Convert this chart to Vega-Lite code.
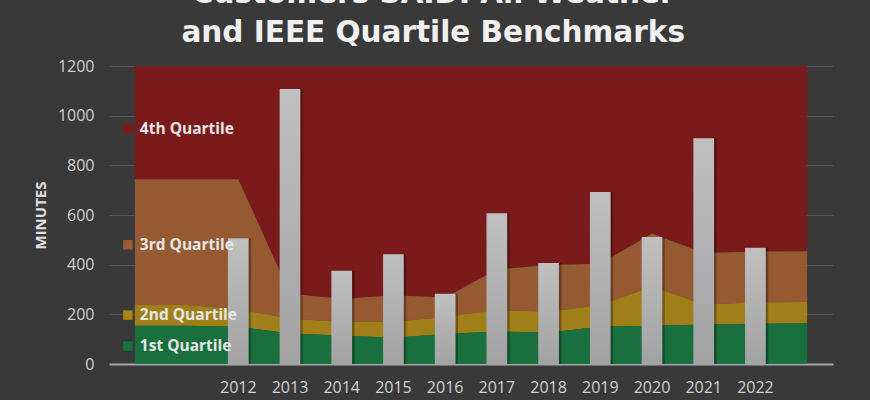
{
  "$schema": "https://vega.github.io/schema/vega-lite/v6.json",
  "width": 724,
  "height": 298,
  "autosize": {"type": "none"},
  "padding": {"left": 109, "top": 66, "right": 37, "bottom": 36},
  "background": "#393939",
  "config": {"view": {"stroke": null}, "font": "Open Sans"},
  "title": {
    "text": ["Customers SAIDI All Weather", "and IEEE Quartile Benchmarks"],
    "font": "DejaVu Sans",
    "fontSize": 29.5,
    "fontWeight": "bold",
    "color": "#f0f0f0",
    "lineHeight": 39,
    "anchor": "middle",
    "frame": "bounds",
    "baseline": "alphabetic",
    "offset": -13
  },
  "datasets": {
    "areas": [
      {"year": 2010, "quartile": "4th Quartile", "lo": 744, "hi": 1200},
      {"year": 2011, "quartile": "4th Quartile", "lo": 744, "hi": 1200},
      {"year": 2012, "quartile": "4th Quartile", "lo": 744, "hi": 1200},
      {"year": 2013, "quartile": "4th Quartile", "lo": 284, "hi": 1200},
      {"year": 2014, "quartile": "4th Quartile", "lo": 262, "hi": 1200},
      {"year": 2015, "quartile": "4th Quartile", "lo": 277, "hi": 1200},
      {"year": 2016, "quartile": "4th Quartile", "lo": 268, "hi": 1200},
      {"year": 2017, "quartile": "4th Quartile", "lo": 381, "hi": 1200},
      {"year": 2018, "quartile": "4th Quartile", "lo": 399, "hi": 1200},
      {"year": 2019, "quartile": "4th Quartile", "lo": 404, "hi": 1200},
      {"year": 2020, "quartile": "4th Quartile", "lo": 526, "hi": 1200},
      {"year": 2021, "quartile": "4th Quartile", "lo": 447, "hi": 1200},
      {"year": 2022, "quartile": "4th Quartile", "lo": 453, "hi": 1200},
      {"year": 2023, "quartile": "4th Quartile", "lo": 454, "hi": 1200},
      {"year": 2010, "quartile": "3rd Quartile", "lo": 238, "hi": 744},
      {"year": 2011, "quartile": "3rd Quartile", "lo": 238, "hi": 744},
      {"year": 2012, "quartile": "3rd Quartile", "lo": 221, "hi": 744},
      {"year": 2013, "quartile": "3rd Quartile", "lo": 182, "hi": 284},
      {"year": 2014, "quartile": "3rd Quartile", "lo": 170, "hi": 262},
      {"year": 2015, "quartile": "3rd Quartile", "lo": 170, "hi": 277},
      {"year": 2016, "quartile": "3rd Quartile", "lo": 189, "hi": 268},
      {"year": 2017, "quartile": "3rd Quartile", "lo": 217, "hi": 381},
      {"year": 2018, "quartile": "3rd Quartile", "lo": 210, "hi": 399},
      {"year": 2019, "quartile": "3rd Quartile", "lo": 238, "hi": 404},
      {"year": 2020, "quartile": "3rd Quartile", "lo": 312, "hi": 526},
      {"year": 2021, "quartile": "3rd Quartile", "lo": 240, "hi": 447},
      {"year": 2022, "quartile": "3rd Quartile", "lo": 248, "hi": 453},
      {"year": 2023, "quartile": "3rd Quartile", "lo": 250, "hi": 454},
      {"year": 2010, "quartile": "2nd Quartile", "lo": 154, "hi": 238},
      {"year": 2011, "quartile": "2nd Quartile", "lo": 154, "hi": 238},
      {"year": 2012, "quartile": "2nd Quartile", "lo": 150, "hi": 221},
      {"year": 2013, "quartile": "2nd Quartile", "lo": 123, "hi": 182},
      {"year": 2014, "quartile": "2nd Quartile", "lo": 115, "hi": 170},
      {"year": 2015, "quartile": "2nd Quartile", "lo": 106, "hi": 170},
      {"year": 2016, "quartile": "2nd Quartile", "lo": 121, "hi": 189},
      {"year": 2017, "quartile": "2nd Quartile", "lo": 131, "hi": 217},
      {"year": 2018, "quartile": "2nd Quartile", "lo": 127, "hi": 210},
      {"year": 2019, "quartile": "2nd Quartile", "lo": 150, "hi": 238},
      {"year": 2020, "quartile": "2nd Quartile", "lo": 154, "hi": 312},
      {"year": 2021, "quartile": "2nd Quartile", "lo": 159, "hi": 240},
      {"year": 2022, "quartile": "2nd Quartile", "lo": 162, "hi": 248},
      {"year": 2023, "quartile": "2nd Quartile", "lo": 164, "hi": 250},
      {"year": 2010, "quartile": "1st Quartile", "lo": 0, "hi": 154},
      {"year": 2011, "quartile": "1st Quartile", "lo": 0, "hi": 154},
      {"year": 2012, "quartile": "1st Quartile", "lo": 0, "hi": 150},
      {"year": 2013, "quartile": "1st Quartile", "lo": 0, "hi": 123},
      {"year": 2014, "quartile": "1st Quartile", "lo": 0, "hi": 115},
      {"year": 2015, "quartile": "1st Quartile", "lo": 0, "hi": 106},
      {"year": 2016, "quartile": "1st Quartile", "lo": 0, "hi": 121},
      {"year": 2017, "quartile": "1st Quartile", "lo": 0, "hi": 131},
      {"year": 2018, "quartile": "1st Quartile", "lo": 0, "hi": 127},
      {"year": 2019, "quartile": "1st Quartile", "lo": 0, "hi": 150},
      {"year": 2020, "quartile": "1st Quartile", "lo": 0, "hi": 154},
      {"year": 2021, "quartile": "1st Quartile", "lo": 0, "hi": 159},
      {"year": 2022, "quartile": "1st Quartile", "lo": 0, "hi": 162},
      {"year": 2023, "quartile": "1st Quartile", "lo": 0, "hi": 164}
    ],
    "bars": [
      {"year": 2012, "minutes": 506},
      {"year": 2013, "minutes": 1107},
      {"year": 2014, "minutes": 376},
      {"year": 2015, "minutes": 442},
      {"year": 2016, "minutes": 283},
      {"year": 2017, "minutes": 607},
      {"year": 2018, "minutes": 407},
      {"year": 2019, "minutes": 693},
      {"year": 2020, "minutes": 511},
      {"year": 2021, "minutes": 909},
      {"year": 2022, "minutes": 468}
    ],
    "legend": [
      {"year": 2010, "quartile": "4th Quartile", "y": 947},
      {"year": 2010, "quartile": "3rd Quartile", "y": 480},
      {"year": 2010, "quartile": "2nd Quartile", "y": 197},
      {"year": 2010, "quartile": "1st Quartile", "y": 72}
    ]
  },
  "encoding": {
    "x": {
      "field": "year",
      "type": "ordinal",
      "scale": {
        "type": "band",
        "domain": [2010, 2011, 2012, 2013, 2014, 2015, 2016, 2017, 2018, 2019, 2020, 2021, 2022, 2023],
        "paddingInner": 0,
        "paddingOuter": 0
      },
      "axis": {
        "title": null,
        "labelExpr": "datum.value >= 2012 && datum.value <= 2022 ? datum.label : ''",
        "labelOverlap": false,
        "ticks": false,
        "tickSize": 0,
        "grid": false,
        "domainColor": "#a8a8a8",
        "domainWidth": 2,
        "labelColor": "#d0d0d0",
        "labelFontSize": 16,
        "labelPadding": 15,
        "labelAngle": 0
      }
    }
  },
  "layer": [
    {
      "data": {"name": "areas"},
      "mark": {"type": "area", "opacity": 0.93, "interpolate": "linear"},
      "encoding": {
        "x": {"field": "year", "type": "ordinal", "bandPosition": 0.5},
        "y": {
          "field": "hi",
          "type": "quantitative",
          "scale": {"domain": [0, 1200], "nice": false},
          "axis": {
            "title": "MINUTES",
            "values": [0, 200, 400, 600, 800, 1000, 1200],
            "format": "d",
            "domain": false,
            "ticks": false,
            "tickSize": 0,
            "labelPadding": 15,
            "labelFontSize": 16,
            "labelColor": "#d0d0d0",
            "gridColor": "#575757",
            "gridWidth": 1,
            "titleFontSize": 15,
            "titleFontWeight": "bold",
            "titleColor": "#e0e0e0",
            "titlePadding": 9
          }
        },
        "y2": {"field": "lo"},
        "color": {
          "field": "quartile",
          "type": "nominal",
          "scale": {
            "domain": ["4th Quartile", "3rd Quartile", "2nd Quartile", "1st Quartile"],
            "range": ["#801818", "#9c5c31", "#a88317", "#17733d"]
          },
          "legend": null
        }
      }
    },
    {
      "data": {"name": "bars"},
      "mark": {"type": "bar", "width": {"band": 0.4}, "color": "#000000", "opacity": 0.3, "xOffset": 2.5},
      "encoding": {
        "y": {"field": "minutes", "type": "quantitative"}
      }
    },
    {
      "data": {"name": "bars"},
      "mark": {
        "type": "bar",
        "width": {"band": 0.4},
        "color": {
          "gradient": "linear",
          "x1": 0, "y1": 0, "x2": 0, "y2": 1,
          "stops": [
            {"offset": 0, "color": "#c0c0c0"},
            {"offset": 1, "color": "#a2a2a2"}
          ]
        }
      },
      "encoding": {
        "y": {"field": "minutes", "type": "quantitative"}
      }
    },
    {
      "data": {"name": "legend"},
      "mark": {"type": "point", "shape": "square", "filled": true, "size": 90, "opacity": 1, "xOffset": -7},
      "encoding": {
        "x": {"field": "year", "type": "ordinal", "bandPosition": 0.5},
        "y": {"field": "y", "type": "quantitative"},
        "color": {"field": "quartile", "type": "nominal", "legend": null}
      }
    },
    {
      "data": {"name": "legend"},
      "mark": {"type": "text", "align": "left", "baseline": "middle", "dx": 5, "fontSize": 15.5, "fontWeight": "bold", "color": "#e6e6e6"},
      "encoding": {
        "x": {"field": "year", "type": "ordinal", "bandPosition": 0.5},
        "y": {"field": "y", "type": "quantitative"},
        "text": {"field": "quartile"}
      }
    }
  ]
}
